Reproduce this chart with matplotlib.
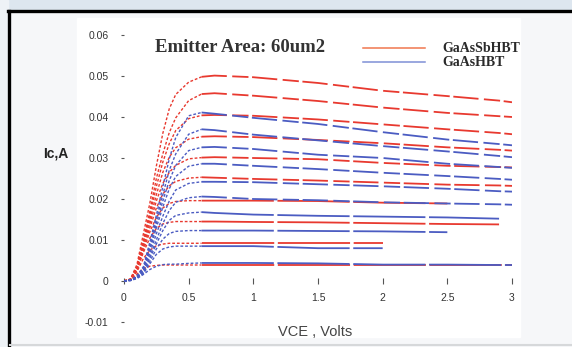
import numpy as np
import matplotlib.pyplot as plt
from matplotlib.patches import Rectangle
from matplotlib.lines import Line2D

# === DATA ===
# Vce grid shared by every curve: knee part then flat part
vce_knee = [0.0, 0.05, 0.1, 0.15, 0.2, 0.25, 0.3, 0.35, 0.4, 0.5, 0.6]
vce_flat = [0.7, 1.0, 1.5, 2.0, 2.5, 2.9, 3.0]
nan = np.nan

# GaAsSb HBT family (top curve first), Ic in A
red_knee = [
    [0, 0.0005, 0.0040, 0.0115, 0.0190, 0.0280, 0.0360, 0.0420, 0.0455, 0.0485, 0.0498],
    [0, 0.0004, 0.0035, 0.0100, 0.0170, 0.0250, 0.0310, 0.0362, 0.0398, 0.0440, 0.0456],
    [0, 0.0004, 0.0033, 0.0095, 0.0160, 0.0230, 0.0290, 0.0335, 0.0367, 0.0396, 0.0404],
    [0, 0.0004, 0.0031, 0.0090, 0.0150, 0.0210, 0.0265, 0.0302, 0.0325, 0.0346, 0.0352],
    [0, 0.0004, 0.0030, 0.0085, 0.0140, 0.0195, 0.0238, 0.0265, 0.0282, 0.0298, 0.0301],
    [0, 0.0004, 0.0029, 0.0080, 0.0130, 0.0178, 0.0212, 0.0232, 0.0243, 0.0251, 0.0253],
    [0, 0.0004, 0.0028, 0.0075, 0.0120, 0.0155, 0.0178, 0.0189, 0.0194, 0.0196, 0.0196],
    [0, 0.0003, 0.0026, 0.0070, 0.0105, 0.0128, 0.0139, 0.0143, 0.0145, 0.0145, 0.0145],
    [0, 0.0003, 0.0023, 0.0055, 0.0075, 0.0086, 0.0090, 0.0092, 0.0092, 0.0092, 0.0092],
    [0, 0.0003, 0.0017, 0.0030, 0.0036, 0.0038, 0.0039, 0.0039, 0.0039, 0.0039, 0.0039],
]
red_flat = [
    [0.0501, 0.0497, 0.0483, 0.0464, 0.0451, 0.0440, 0.0436],
    [0.0458, 0.0452, 0.0439, 0.0423, 0.0410, 0.0402, 0.0400],
    [0.0405, 0.0403, 0.0394, 0.0382, 0.0370, 0.0361, 0.0358],
    [0.0353, 0.0351, 0.0344, 0.0336, 0.0326, 0.0320, 0.0318],
    [0.0302, 0.0300, 0.0297, 0.0288, 0.0281, 0.0278, 0.0277],
    [0.0252, 0.0249, 0.0245, 0.0240, 0.0235, 0.0233, 0.0232],
    [0.0196, 0.0196, 0.0195, 0.0191, 0.0189, nan, nan],
    [0.0145, 0.0144, 0.0143, 0.0141, 0.0139, 0.0138, nan],
    [0.0092, 0.0092, 0.0092, 0.0092, nan, nan, nan],
    [0.0039, 0.0039, 0.0039, 0.0039, 0.0039, 0.0039, 0.0039],
]

# GaAs HBT family (top curve first), Ic in A
blue_knee = [
    [0, 0.0002, 0.0012, 0.0035, 0.0095, 0.0160, 0.0230, 0.0298, 0.0350, 0.0403, 0.0411],
    [0, 0.0002, 0.0011, 0.0032, 0.0088, 0.0150, 0.0210, 0.0270, 0.0310, 0.0358, 0.0370],
    [0, 0.0002, 0.0010, 0.0030, 0.0080, 0.0140, 0.0195, 0.0245, 0.0282, 0.0318, 0.0326],
    [0, 0.0002, 0.0010, 0.0028, 0.0075, 0.0130, 0.0180, 0.0225, 0.0255, 0.0280, 0.0286],
    [0, 0.0002, 0.0009, 0.0026, 0.0068, 0.0115, 0.0158, 0.0195, 0.0222, 0.0238, 0.0242],
    [0, 0.0002, 0.0009, 0.0024, 0.0060, 0.0100, 0.0140, 0.0172, 0.0192, 0.0203, 0.0206],
    [0, 0.0002, 0.0008, 0.0022, 0.0055, 0.0090, 0.0123, 0.0148, 0.0160, 0.0166, 0.0168],
    [0, 0.0002, 0.0008, 0.0020, 0.0048, 0.0078, 0.0102, 0.0116, 0.0121, 0.0123, 0.0123],
    [0, 0.0001, 0.0007, 0.0018, 0.0042, 0.0065, 0.0078, 0.0083, 0.0085, 0.0085, 0.0085],
    [0, 0.0001, 0.0006, 0.0016, 0.0028, 0.0036, 0.0040, 0.0041, 0.0041, 0.0043, 0.0044],
]
blue_flat = [
    [0.0408, 0.0398, 0.0383, 0.0363, 0.0345, 0.0334, 0.0331],
    [0.0368, 0.0357, 0.0343, 0.0329, 0.0316, 0.0305, 0.0302],
    [0.0327, 0.0322, 0.0308, 0.0300, 0.0286, 0.0278, 0.0276],
    [0.0286, 0.0281, 0.0273, 0.0264, 0.0256, 0.0249, 0.0247],
    [0.0242, 0.0241, 0.0236, 0.0231, 0.0225, 0.0219, 0.0218],
    [0.0205, 0.0200, 0.0197, 0.0192, 0.0189, 0.0187, 0.0186],
    [0.0166, 0.0162, 0.0159, 0.0157, 0.0155, 0.0152, nan],
    [0.0123, 0.0123, 0.0122, 0.0121, 0.0119, nan, nan],
    [0.0085, 0.0085, 0.0080, 0.0080, nan, nan, nan],
    [0.0044, 0.0044, 0.0043, 0.0040, 0.0040, 0.0039, 0.0039],
]

x_ticks = [0, 0.5, 1, 1.5, 2, 2.5, 3]
x_tick_labels = ["0", "0.5", "1", "1.5", "2", "2.5", "3"]
y_ticks = [-0.01, 0, 0.01, 0.02, 0.03, 0.04, 0.05, 0.06]
y_tick_labels = ["-0.01", "0", "0.01", "0.02", "0.03", "0.04", "0.05", "0.06"]

series_names = ["GaAsSbHBT", "GaAsHBT"]
RED = "#e8392f"
BLUE = "#4b5cc2"

W, H = 572, 347


def fx(px):
    return px / W


def fy(py):
    return (H - py) / H


fig = plt.figure(figsize=(W / 100, H / 100), dpi=100)
fig.patch.set_facecolor("#f6f7f9")

# surroundings of the scanned slide
fig.add_artist(Rectangle((0, fy(9)), 1, 9 / H, transform=fig.transFigure,
                         color="#dde6ef", zorder=0))
fig.add_artist(Rectangle((0, 0), fx(8), 1, transform=fig.transFigure,
                         color="#eef2f6", zorder=0))
fig.add_artist(Rectangle((fx(77), fy(337)), fx(520 - 77), (337 - 18) / H,
                         transform=fig.transFigure, color="white", zorder=0))
fig.add_artist(Line2D([fx(8), 1], [fy(10.5), fy(10.5)], transform=fig.transFigure,
                      color="black", lw=2.4, zorder=1))
fig.add_artist(Line2D([fx(9), fx(9)], [0, fy(10.5)], transform=fig.transFigure,
                      color="black", lw=2.4, zorder=1))
fig.add_artist(Line2D([fx(10), 1], [fy(345), fy(345)], transform=fig.transFigure,
                      color="#d6d8da", lw=1.5, zorder=1))

ax = fig.add_axes([fx(124), fy(322), fx(512 - 124), (322 - 35) / H])
ax.set_facecolor("none")

v_all = vce_knee + vce_flat
families = [(red_knee, red_flat, RED), (blue_knee, blue_flat, BLUE)]
for knees, flats, color in families:
    for i, (knee, flat) in enumerate(zip(knees, flats)):
        ax.plot(vce_knee, knee, color=color, lw=1.0, ls=(0, (2, 1.4)))
        # sloped upper curves came out broken in the scan, the low ones nearly solid
        ls = (0, (14, 3, 9, 2)) if i < 6 else (0, (40, 2))
        ax.plot(v_all[len(vce_knee) - 1:], [knee[-1]] + flat, color=color, lw=1.3,
                ls=ls, dash_capstyle="butt")

ax.set_xlim(0, 3)
ax.set_ylim(-0.01, 0.06)
for side in ("top", "right"):
    ax.spines[side].set_visible(False)
ax.spines["left"].set_position(("data", 0))
ax.spines["bottom"].set_position(("data", 0))
ax.spines["left"].set_color("none")
ax.spines["bottom"].set_color("none")

ax.set_xticks(x_ticks)
ax.set_xticklabels(x_tick_labels)
ax.set_yticks(y_ticks)
ax.set_yticklabels(y_tick_labels)
ax.tick_params(axis="x", direction="inout", length=5, width=0.8, color="#555555",
               pad=6, labelsize=7.5, labelcolor="#333333")
ax.tick_params(axis="y", direction="out", length=2, width=0.8, color="#555555",
               pad=9, labelsize=7.5, labelcolor="#333333")
for lab in ax.get_xticklabels() + ax.get_yticklabels():
    lab.set_family("Liberation Sans")

fig.text(fx(155), fy(48), "Emitter Area: 60um2", ha="left", va="center",
         family="Liberation Serif", weight="bold", fontsize=13.5, color="#333333")

# legend
fig.add_artist(Line2D([fx(363), fx(425)], [fy(48), fy(48)], transform=fig.transFigure,
                      color="#f0764e", lw=1.1))
fig.add_artist(Line2D([fx(363), fx(425)], [fy(61.5), fy(61.5)], transform=fig.transFigure,
                      color="#7f8fd6", lw=1.1))
fig.text(fx(442), fy(48), series_names[0], ha="left", va="center",
         family="Liberation Serif", weight="bold", fontsize=10, color="#2a2a2a")
fig.text(fx(442), fy(62), series_names[1], ha="left", va="center",
         family="Liberation Serif", weight="bold", fontsize=10, color="#2a2a2a")

fig.text(fx(43), fy(154), "Ic,A", ha="left", va="center",
         family="Liberation Sans", weight="bold", fontsize=10, color="#222222")
fig.text(fx(278), fy(332), "VCE , Volts", ha="left", va="center",
         family="Liberation Sans", fontsize=10.5, color="#444444")

fig.savefig("out.png", dpi=100, facecolor=fig.get_facecolor())
